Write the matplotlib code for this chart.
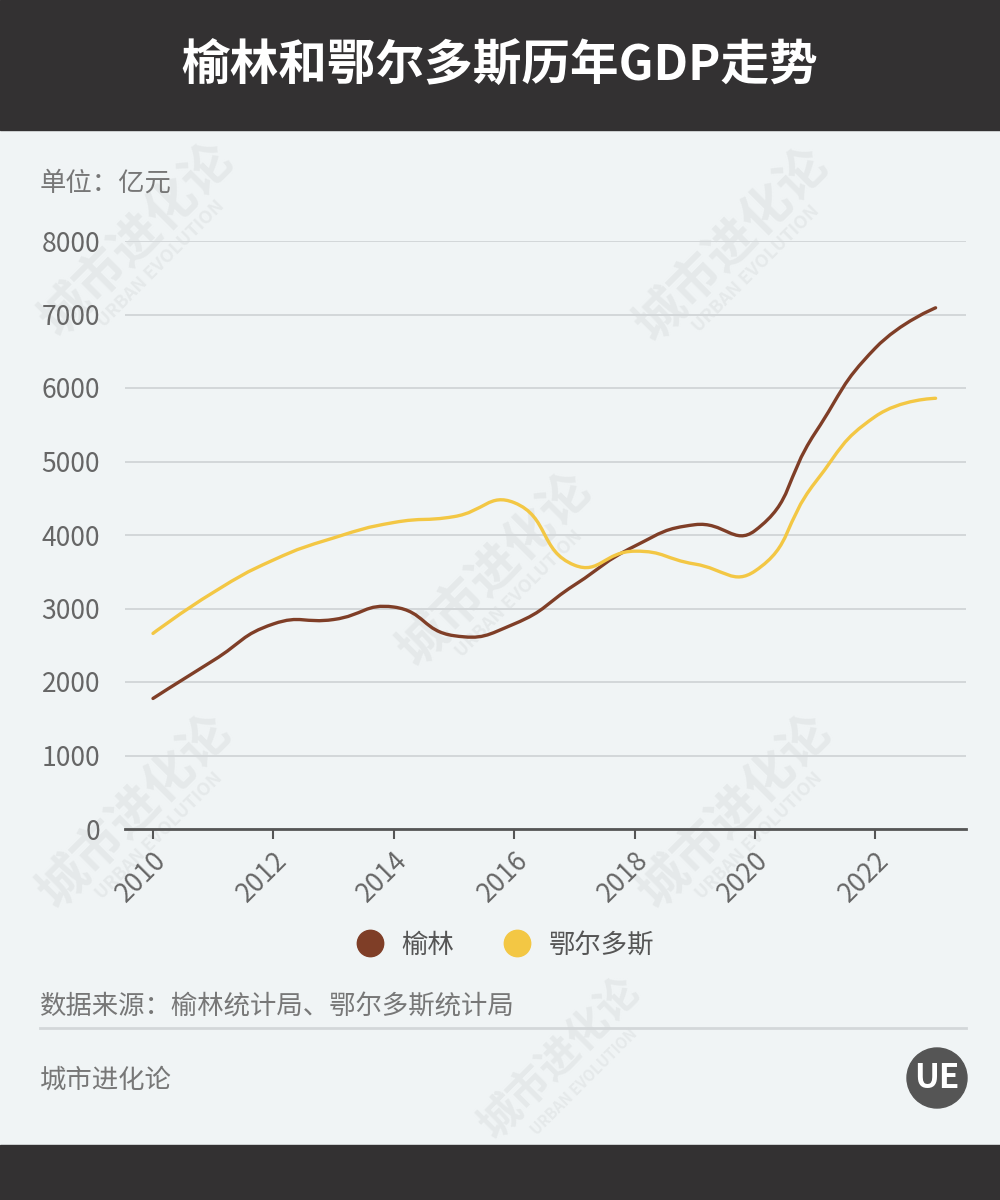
import numpy as np
import matplotlib
matplotlib.use("Agg")
import matplotlib.pyplot as plt
from matplotlib.path import Path
from matplotlib.patches import PathPatch, Rectangle, Ellipse
from matplotlib.lines import Line2D

plt.rcParams['font.family'] = ['Noto Sans CJK SC', 'DejaVu Sans']

years = [2010, 2011, 2012, 2013, 2014, 2015, 2016, 2017, 2018, 2019, 2020, 2021, 2022, 2023]
yulin = [1776, 2292, 2790, 2850, 3020, 2630, 2790, 3319, 3848, 4140, 4060, 5390, 6544, 7091]
ordos = [2661, 3218, 3660, 3960, 4170, 4250, 4440, 3590, 3780, 3605, 3510, 4716, 5613, 5860]
series_names = ["榆林", "鄂尔多斯"]
tick_years = [2010, 2012, 2014, 2016, 2018, 2020, 2022]
y_ticks = [0, 1000, 2000, 3000, 4000, 5000, 6000, 7000, 8000]

BG = "#f0f4f5"
DARK = "#333132"
BROWN = "#7f3e27"
YELLOW = "#f3c744"
GREY_TXT = "#777777"
WM = "#e5e9ea"

fig = plt.figure(figsize=(10, 12), dpi=100)
fig.patch.set_facecolor(BG)


def px(x, y):
    # pixel position (from top-left) -> figure fraction
    return x / 1000, 1 - y / 1200


# dark bars top and bottom
fig.patches.append(Rectangle(px(0, 130), 1, 130 / 1200, transform=fig.transFigure,
                             color=DARK, zorder=1))
fig.patches.append(Rectangle((0, 0), 1, 55 / 1200, transform=fig.transFigure,
                             color=DARK, zorder=1))
fig.text(*px(500, 66), "榆林和鄂尔多斯历年GDP走势", color="white", fontsize=35,
         fontweight="heavy", ha="center", va="center", zorder=2)

# faint watermarks
for cx, cy, fs in [(137, 240, 36), (732, 245, 36), (495, 570, 36), (135, 812, 36),
                   (735, 812, 36), (560, 1058, 30)]:
    x, y = px(cx, cy)
    fig.text(x, y, "城市进化论", fontsize=fs, fontweight="bold", color=WM,
             rotation=45, rotation_mode="anchor", ha="center", va="center", zorder=0.5)
    fig.text(x + 0.024, y - 0.02, "URBAN EVOLUTION", fontsize=fs * 0.36, fontweight="bold",
             color=WM, rotation=45, rotation_mode="anchor", ha="center",
             va="center", zorder=0.5)

ax = fig.add_axes([0.125, 1 - 829 / 1200, 0.841, (829 - 241) / 1200])
ax.set_facecolor("none")
ax.set_zorder(2)
ax.set_xlim(2009.535, 2023.505)
ax.set_ylim(0, 8000)


def smooth_path(xs, ys, smooth=0.5, sx=60.2, sy=0.0735):
    # echarts-like bezier smoothing, distances measured in pixel space
    pts = np.column_stack([xs, ys]).astype(float)
    scale = np.array([sx, sy])
    n = len(pts)
    verts = [pts[0]]
    codes = [Path.MOVETO]
    cps = []
    for i in range(n):
        if i == 0 or i == n - 1:
            cps.append((pts[i], pts[i]))
            continue
        prev, cur, nxt = pts[i - 1], pts[i], pts[i + 1]
        vec = (nxt - prev) * smooth
        d0 = np.linalg.norm((cur - prev) * scale)
        d1 = np.linalg.norm((nxt - cur) * scale)
        s = d0 + d1
        d0, d1 = d0 / s, d1 / s
        cps.append((cur - vec * d0, cur + vec * d1))
    for i in range(1, n):
        verts += [cps[i - 1][1], cps[i][0], pts[i]]
        codes += [Path.CURVE4] * 3
    return Path(verts, codes)


for vals, col in [(yulin, BROWN), (ordos, YELLOW)]:
    ax.add_patch(PathPatch(smooth_path(years, vals), facecolor="none", edgecolor=col,
                           lw=2.4, capstyle="round", zorder=3))

ax.set_yticks(y_ticks)
ax.set_xticks(tick_years)
ax.set_xticklabels([str(y) for y in tick_years], rotation=45, ha="right",
                   rotation_mode="anchor", fontsize=19, color="#666666")
ax.tick_params(axis="x", length=7, width=1.5, color="#555555", pad=6)
ax.tick_params(axis="y", length=0, labelsize=19, labelcolor="#666666", pad=18)
ax.grid(axis="y", color="#d3d7d9", lw=1.4)
ax.set_axisbelow(True)
for s in ["left", "right", "top"]:
    ax.spines[s].set_visible(False)
ax.spines["bottom"].set_color("#555555")
ax.spines["bottom"].set_linewidth(2)
ax.spines["bottom"].set_zorder(4)

fig.text(*px(40, 183), "单位：亿元", fontsize=19, color=GREY_TXT, va="center")

handles = [Line2D([], [], marker="o", ls="none", markersize=19, color=c)
           for c in (BROWN, YELLOW)]
fig.legend(handles, series_names, loc="center", bbox_to_anchor=px(499, 945),
           ncol=2, frameon=False, fontsize=19, labelcolor="#555555", handletextpad=0.2,
           columnspacing=1.4)

fig.text(*px(40, 1007), "数据来源：榆林统计局、鄂尔多斯统计局", fontsize=19,
         color=GREY_TXT, va="center")
fig.add_artist(Line2D([40 / 1000, 966 / 1000], [1 - 1028 / 1200] * 2, color="#d3d7d9", lw=2))
fig.text(*px(40, 1080), "城市进化论", fontsize=19, color=GREY_TXT, va="center")

# logo
fig.patches.append(Ellipse(px(937, 1078), 0.06, 0.05, transform=fig.transFigure,
                           color="#555555", zorder=2))
fig.text(*px(937, 1078), "UE", fontsize=24, color="white", fontweight="bold",
         ha="center", va="center", zorder=3)

fig.savefig("out.png", dpi=100, facecolor=BG)
